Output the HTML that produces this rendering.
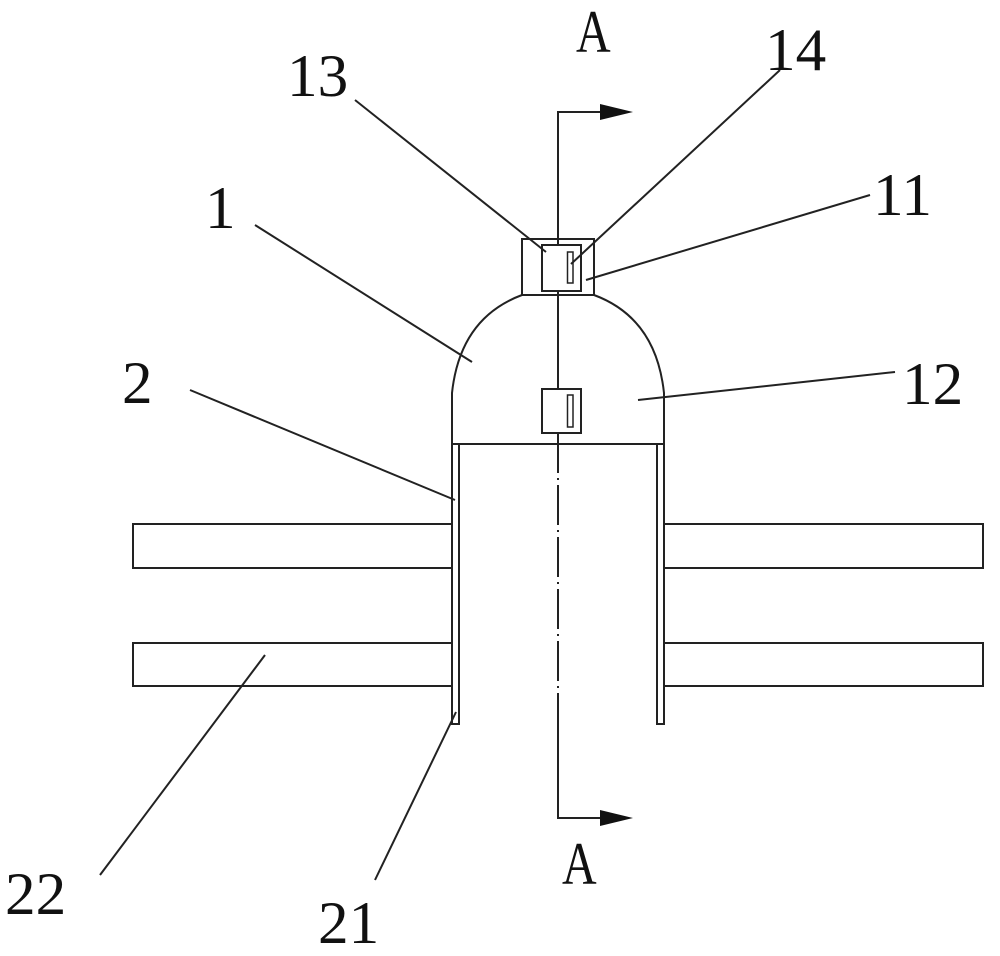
<!DOCTYPE html>
<html><head><style>html,body{margin:0;padding:0;background:#fff}svg{display:block}</style></head>
<body>
<svg width="1000" height="956" viewBox="0 0 1000 956" xmlns="http://www.w3.org/2000/svg">
<g fill="none" stroke="#222" stroke-width="2">
<polyline points="558,245 558,112 602,112"/>
<rect x="522" y="239" width="72" height="56"/>
<rect x="542" y="245" width="39" height="46"/>
<rect x="567.5" y="252" width="5.5" height="31" stroke-width="1.5"/>
<path d="M522,295 Q460,318 452,393 L452,444 M594,295 Q656,318 664,393 L664,444"/>
<line x1="452" y1="444" x2="664" y2="444"/>
<line x1="558" y1="291" x2="558" y2="389"/>
<rect x="542" y="389" width="39" height="44"/>
<rect x="567.5" y="395" width="5.5" height="32" stroke-width="1.5"/>
<rect x="452" y="444" width="7" height="280"/>
<rect x="657" y="444" width="7" height="280"/>
<polyline points="452,524 133,524 133,568 452,568"/>
<polyline points="452,643 133,643 133,686 452,686"/>
<polyline points="664,524 983,524 983,568 664,568"/>
<polyline points="664,643 983,643 983,686 664,686"/>
<line x1="558" y1="433" x2="558" y2="697" stroke-dasharray="40,5,2,5"/>
<polyline points="558,697 558,818 602,818"/>
<line x1="355" y1="100" x2="546" y2="252"/>
<line x1="780" y1="70" x2="571" y2="264"/>
<line x1="870" y1="195" x2="586" y2="280"/>
<line x1="255" y1="225" x2="472" y2="362"/>
<line x1="190" y1="390" x2="455" y2="500"/>
<line x1="895" y1="372" x2="638" y2="400"/>
<line x1="100" y1="875" x2="265" y2="655"/>
<line x1="375" y1="880" x2="456" y2="712"/>
</g>
<polygon points="600,104 633,112 600,120" fill="#111"/>
<polygon points="600,810 633,818 600,826" fill="#111"/>
<g font-family="Liberation Serif, serif" font-size="60" fill="#111">
<text transform="translate(576,52) scale(0.8,1)">A</text>
<text transform="translate(562,884) scale(0.8,1)">A</text>
<text transform="translate(287,96) scale(1.02,1)">13</text>
<text transform="translate(765,70) scale(1.02,1)">14</text>
<text transform="translate(873,215) scale(1.02,1)">11</text>
<text transform="translate(205,228) scale(1.02,1)">1</text>
<text transform="translate(122,403) scale(1.02,1)">2</text>
<text transform="translate(902,404) scale(1.02,1)">12</text>
<text transform="translate(5,914) scale(1.02,1)">22</text>
<text transform="translate(318,943) scale(1.02,1)">21</text>
</g>
</svg>
</body></html>
